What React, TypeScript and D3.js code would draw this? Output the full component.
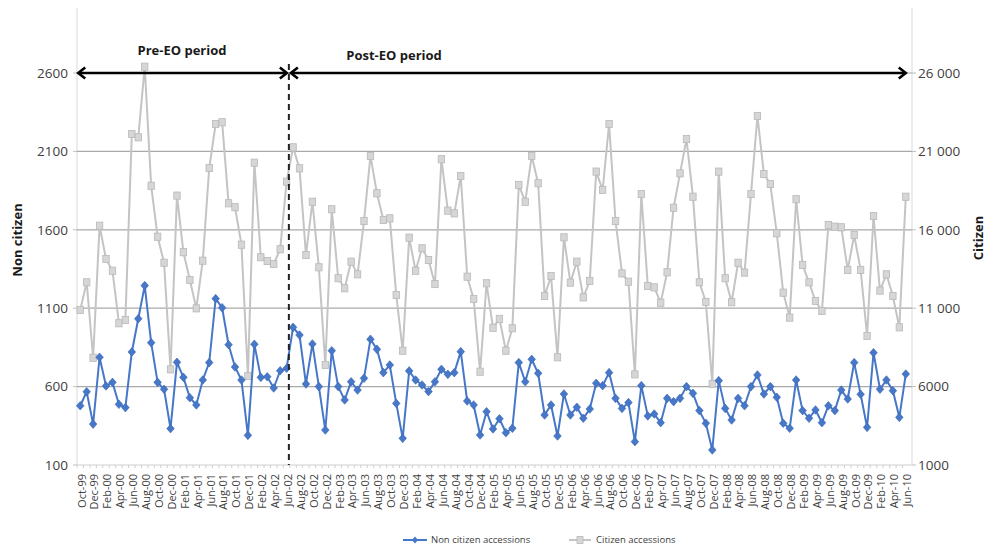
import React from 'react'
import * as d3 from 'd3'

// monthly categories, Oct-99 .. Jun-10
const MONTH_NAMES = ['Jan', 'Feb', 'Mar', 'Apr', 'May', 'Jun', 'Jul', 'Aug', 'Sep', 'Oct', 'Nov', 'Dec']
const months: string[] = []
for (let k = 0; k < 129; ++k) {
  const m = (9 + k) % 12
  const yr = 1999 + Math.floor((9 + k) / 12)
  months.push(`${MONTH_NAMES[m]}-${String(yr % 100).padStart(2, '0')}`)
}

const nonCitizen = [
  478, 567, 361, 787, 604, 627, 487, 466, 821, 1033, 1244, 880, 627, 583, 332, 755, 659, 529, 483, 642,
  753, 1161, 1103, 867, 725, 642, 289, 870, 659, 663, 591, 701, 717,
  978, 929, 617, 872, 600, 323, 829, 600, 515, 631, 578, 653, 902, 838, 689, 738, 493, 270, 700, 642,
  610, 568, 631, 710, 678, 689, 823, 508, 483, 291, 440, 330, 395,
  306, 334, 753, 631, 774, 685, 419, 483, 285, 553, 419, 468, 398, 457, 621, 606, 689, 525, 461, 498,
  249, 606, 413, 425, 370, 525, 504, 525, 600, 557, 447, 366,
  196, 638, 461, 387, 525, 478, 600, 674, 553, 600, 532, 366, 334, 642, 447, 398, 451, 370, 478, 447,
  578, 521, 753, 551, 340, 816, 583, 642, 574, 404, 680
]

const citizen = [
  10890, 12650, 7840, 16260, 14140, 13390, 10040, 10250, 22110, 21900, 26400, 18810, 15560, 13900, 7100,
  18180, 14570, 12800, 10990, 14030, 19940, 22750, 22860, 17690, 17440, 15050, 6680, 20280, 14250, 14010,
  13820, 14760, 19070,
  21260, 19920, 14390, 17790, 13610, 7380, 17310, 12910, 12270, 13970, 13160, 16560, 20710, 18330, 16630,
  16730, 11840, 8290, 15500, 13390, 14820, 14070, 12540, 20500, 17220, 17050, 19430, 13010, 11590, 6950,
  12590, 9750, 10320,
  8290, 9720, 18860, 17790, 20710, 18970, 11780, 13050, 7870, 15520, 12630, 13970, 11690, 12740, 19710,
  18540, 22750, 16560, 13220, 12690, 6780, 18280, 12420, 12330, 11350, 13290, 17410, 19600, 21790, 18110,
  12650, 11400,
  6170, 19710, 12910, 11380, 13900, 13270, 18280, 23260, 19560, 18920, 15780, 11990, 10400, 17950, 13760,
  12650, 11460, 10820, 16310, 16200, 16160, 13440, 15670, 13440, 9230, 16880, 12120, 13160, 11780, 9780,
  18110
]

const leftTicks = [100, 600, 1100, 1600, 2100, 2600]
const rightTicks = [1000, 6000, 11000, 16000, 21000, 26000]
const eoMonth = 'Jun-02'

const W = 986
const H = 545
const FONT = '"Open Sans", "Liberation Sans", sans-serif'
const TXT = '#404040'
const BLUE = '#4677c8'
const GRAY = '#c4c4c4'

const fmtRight = (v: number) => (v >= 10000 ? d3.format(',')(v).replace(',', ' ') : String(v))

export default function App() {
  const plotL = 77
  const plotR = 912
  const top = 8
  const bottom = 465

  const x = d3.scalePoint<string>().domain(months).range([77, 909]).padding(0.5)
  const yL = d3.scaleLinear().domain([100, 2600]).range([bottom, 73])
  const yR = d3.scaleLinear().domain([1000, 26000]).range([bottom, 73])

  const lineL = d3.line<number>().x((_, i) => x(months[i])!).y(d => yL(d))
  const lineR = d3.line<number>().x((_, i) => x(months[i])!).y(d => yR(d))

  const step = x.step()
  const eoX = x(eoMonth)! + step * 0.35
  const arrowY = yL(2600)

  const head = (px: number, dir: number) =>
    `M${px + dir * 7},${arrowY - 5.5}L${px},${arrowY}L${px + dir * 7},${arrowY + 5.5}`

  const preL = x(months[0])! - 2
  const preR = eoX - 2
  const postL = eoX + 2
  const postR = x(months[months.length - 1])!

  return (
    <div style={{ position: 'absolute', left: 0, top: 0 }}>
      <svg width={W} height={H} style={{ display: 'block', fontFamily: FONT }}>
        <rect width={W} height={H} fill="#ffffff" />

        {/* plot borders */}
        <line x1={plotL} x2={plotL} y1={top} y2={bottom} stroke="#d9d9d9" />
        <line x1={plotR} x2={plotR} y1={top} y2={bottom} stroke="#d9d9d9" />

        {/* gridlines */}
        {leftTicks.slice(1).map(t => (
          <line key={t} x1={plotL} x2={plotR} y1={yL(t)} y2={yL(t)} stroke="#a9a9a9" strokeWidth={1.2} />
        ))}
        <line x1={plotL} x2={plotR} y1={bottom} y2={bottom} stroke="#cfcfcf" />

        {/* left axis */}
        {leftTicks.map(t => (
          <g key={t}>
            <line x1={plotL - 4} x2={plotL} y1={yL(t)} y2={yL(t)} stroke="#bfbfbf" />
            <text x={68} y={yL(t)} dy="0.35em" textAnchor="end" fontSize={13.5} fill={TXT}>{t}</text>
          </g>
        ))}
        <text transform={`translate(17,240) rotate(-90)`} textAnchor="middle" dy="0.35em"
          fontSize={13} fontWeight={700} fill="#1a1a1a">Non citizen</text>

        {/* right axis */}
        {rightTicks.map(t => (
          <g key={t}>
            <line x1={plotR} x2={plotR + 4} y1={yR(t)} y2={yR(t)} stroke="#bfbfbf" />
            <text x={918} y={yR(t)} dy="0.35em" fontSize={13.5} fill={TXT}>{fmtRight(t)}</text>
          </g>
        ))}
        <text transform={`translate(978,238) rotate(-90)`} textAnchor="middle" dy="0.35em"
          fontSize={13} fontWeight={700} fill="#1a1a1a">Citizen</text>

        {/* x axis ticks & labels */}
        {months.map(m => (
          <line key={'t' + m} x1={x(m)! - step / 2} x2={x(m)! - step / 2} y1={bottom} y2={bottom + 3} stroke="#cfcfcf" />
        ))}
        {months.filter((_, i) => i % 2 === 0).map(m => (
          <text key={'l' + m} transform={`translate(${x(m)! + 1.5},${bottom + 9}) rotate(-90)`}
            textAnchor="end" dy="0.35em" fontSize={11} fill={TXT}>{m}</text>
        ))}

        {/* citizen series */}
        <path d={lineR(citizen)!} fill="none" stroke={GRAY} strokeWidth={2} />
        {citizen.map((v, i) => (
          <rect key={'c' + i} x={x(months[i])! - 3.2} y={yR(v) - 3.6} width={6.4} height={7.2}
            fill="#d6d6d6" stroke="#b8b8b8" strokeWidth={0.8} />
        ))}

        {/* non citizen series */}
        <path d={lineL(nonCitizen)!} fill="none" stroke={BLUE} strokeWidth={2} />
        {nonCitizen.map((v, i) => (
          <path key={'n' + i} transform={`translate(${x(months[i])},${yL(v)})`}
            d="M0,-4.3L3.8,0L0,4.3L-3.8,0Z" fill={BLUE} stroke="#3a66b0" strokeWidth={0.6} />
        ))}

        {/* EO annotation */}
        <line x1={eoX} x2={eoX} y1={64} y2={bottom} stroke="#222" strokeWidth={2} strokeDasharray="6,4" />
        <g stroke="#000" strokeWidth={2.6} fill="none">
          <line x1={preL} x2={preR} y1={arrowY} y2={arrowY} />
          <path d={head(preL, 1)} />
          <path d={head(preR, -1)} />
          <line x1={postL} x2={postR} y1={arrowY} y2={arrowY} />
          <path d={head(postL, 1)} />
          <path d={head(postR, -1)} />
        </g>
        <text x={182} y={55} textAnchor="middle" fontSize={13} fontWeight={700} fill="#1a1a1a">Pre-EO period</text>
        <text x={394} y={60} textAnchor="middle" fontSize={13} fontWeight={700} fill="#1a1a1a">Post-EO period</text>

        {/* legend */}
        <line x1={403} x2={427} y1={540} y2={540} stroke={BLUE} strokeWidth={2} />
        <path transform="translate(415,540)" d="M0,-3.5L3,0L0,3.5L-3,0Z" fill={BLUE} />
        <text x={431} y={540} dy="0.35em" fontSize={9.5} fill={TXT}>Non citizen accessions</text>
        <line x1={569} x2={591} y1={540} y2={540} stroke={GRAY} strokeWidth={2} />
        <rect x={577} y={536.5} width={6} height={7} fill="#d6d6d6" stroke="#b8b8b8" strokeWidth={0.8} />
        <text x={596} y={540} dy="0.35em" fontSize={9.5} fill={TXT}>Citizen accessions</text>
      </svg>
    </div>
  )
}
